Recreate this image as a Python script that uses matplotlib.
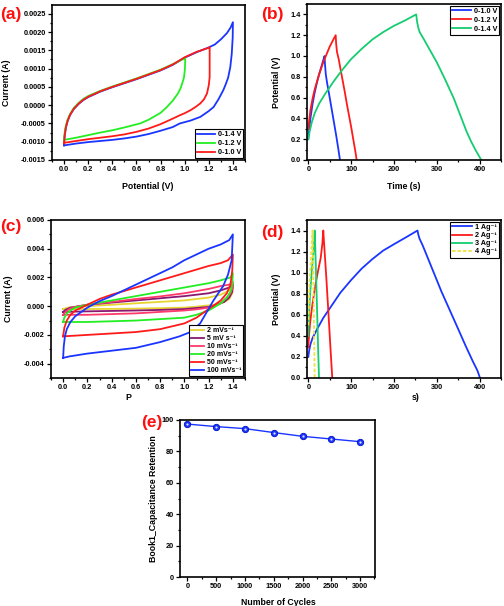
import matplotlib
matplotlib.use("Agg")
import matplotlib.pyplot as plt
from matplotlib.ticker import MultipleLocator, FormatStrFormatter

plt.rcParams['font.family'] = ['Liberation Sans', 'DejaVu Sans']
plt.rcParams['font.weight'] = 'bold'
plt.rcParams['axes.labelweight'] = 'bold'

# ---------------- data: (a) CV at different windows ----------------
a14_pot = [0, 0.005, 0.015, 0.03, 0.05, 0.08, 0.12, 0.16, 0.2, 0.3, 0.4, 0.5, 0.6, 0.7, 0.8, 0.9, 1.0, 1.1, 1.2, 1.25, 1.3, 1.35, 1.38, 1.4,
           1.398, 1.39, 1.378, 1.36, 1.34, 1.32, 1.28, 1.24, 1.2, 1.13, 1.05, 0.96, 0.9, 0.8, 0.7, 0.6, 0.5, 0.4, 0.3, 0.2, 0.1, 0.0]
a14_cur = [-0.00110, -0.00085, -0.00062, -0.00043, -0.00027, -0.00011, 0.00003, 0.00014, 0.00022, 0.00037, 0.00049, 0.00060, 0.00071, 0.00083, 0.00095, 0.00110, 0.00130, 0.00145, 0.00158, 0.00166, 0.00180, 0.00197, 0.00212, 0.00227,
           0.00185, 0.00140, 0.00104, 0.00075, 0.00057, 0.00041, 0.00016, -0.00005, -0.00016, -0.00032, -0.00042, -0.00050, -0.00060, -0.00070, -0.00079, -0.00086, -0.00091, -0.00095, -0.00098, -0.00101, -0.00105, -0.00110]

a12_pot = [0, 0.005, 0.015, 0.03, 0.05, 0.08, 0.12, 0.16, 0.2, 0.3, 0.4, 0.5, 0.6, 0.7, 0.8, 0.9, 1.0, 1.1, 1.2, 1.207,
           1.207, 1.2, 1.185, 1.16, 1.13, 1.09, 1.047, 1.0, 0.964, 0.9, 0.8, 0.7, 0.6, 0.5, 0.4, 0.3, 0.2, 0.1, 0.0]
a12_cur = [-0.00105, -0.00082, -0.00060, -0.00042, -0.00026, -0.00010, 0.00004, 0.00015, 0.00023, 0.00038, 0.00050, 0.00061, 0.00072, 0.00084, 0.00096, 0.00111, 0.00131, 0.00146, 0.00157, 0.00159,
           0.00077, 0.00055, 0.00032, 0.00016, 0.00005, -0.00005, -0.00014, -0.00022, -0.00027, -0.00037, -0.00052, -0.00064, -0.00073, -0.00080, -0.00085, -0.00089, -0.00093, -0.00098, -0.00103]

a10_pot = [0, 0.005, 0.015, 0.03, 0.05, 0.08, 0.12, 0.16, 0.2, 0.3, 0.4, 0.5, 0.6, 0.7, 0.8, 0.9, 1.0, 1.005,
           1.002, 0.995, 0.98, 0.964, 0.94, 0.9, 0.85, 0.8, 0.7, 0.63, 0.5, 0.41, 0.3, 0.2, 0.1, 0.0]
a10_cur = [-0.00095, -0.00075, -0.00056, -0.00039, -0.00024, -0.00008, 0.00006, 0.00017, 0.00025, 0.00039, 0.00051, 0.00062, 0.00073, 0.00085, 0.00097, 0.00112, 0.00128, 0.00130,
           0.00100, 0.00077, 0.00060, 0.00045, 0.00030, 0.00012, -0.00006, -0.00021, -0.00040, -0.00050, -0.00061, -0.00068, -0.00075, -0.00082, -0.00089, -0.00095]

# ---------------- data: (b) GCD at different windows ----------------
b10_t = [0, 2, 5, 10, 15, 20, 25, 30, 35, 38, 39, 41, 44, 50, 55, 60, 65, 70, 74]
b10_v = [0.20, 0.29, 0.40, 0.54, 0.65, 0.74, 0.82, 0.89, 0.96, 1.00, 0.92, 0.82, 0.74, 0.60, 0.48, 0.36, 0.24, 0.11, 0.0]
b12_t = [0, 2, 5, 10, 15, 20, 25, 30, 35, 40, 45, 50, 55, 60, 64, 65, 67, 71, 75, 80, 85, 90, 95, 100, 105, 110, 113]
b12_v = [0.30, 0.38, 0.48, 0.59, 0.68, 0.75, 0.82, 0.88, 0.94, 0.99, 1.04, 1.09, 1.13, 1.17, 1.20, 1.12, 1.04, 0.97, 0.88, 0.77, 0.66, 0.54, 0.43, 0.32, 0.20, 0.08, 0.0]
b14_t = [0, 3, 8, 15, 25, 40, 60, 80, 100, 125, 150, 175, 200, 225, 252,
         254, 257, 260, 270, 285, 300, 320, 340, 355, 370, 380, 390, 404]
b14_v = [0.20, 0.27, 0.36, 0.45, 0.54, 0.64, 0.76, 0.87, 0.97, 1.07, 1.16, 1.23, 1.29, 1.34, 1.40,
         1.33, 1.27, 1.23, 1.16, 1.05, 0.94, 0.77, 0.59, 0.43, 0.27, 0.18, 0.10, 0.0]

# ---------------- data: (c) CV at different scan rates ----------------
c2_pot = [0, 0.05, 0.2, 0.4, 0.6, 0.8, 1.0, 1.2, 1.3, 1.37, 1.4, 1.395, 1.37, 1.33, 1.25, 1.1, 1.0, 0.8, 0.6, 0.4, 0.2, 0.0]
c2_cur = [-0.0002, -0.00008, 0.0000, 0.0001, 0.0002, 0.0003, 0.0004, 0.0006, 0.0008, 0.0011, 0.0014, 0.0009, 0.0005, 0.0003, 0.0001, -0.00003, -0.0001, -0.00014, -0.00017, -0.00019, -0.0002, -0.0002]
c5_pot = [0, 0.02, 0.06, 0.2, 0.4, 0.6, 0.8, 1.0, 1.2, 1.3, 1.37, 1.4, 1.395, 1.37, 1.33, 1.25, 1.2, 1.0, 0.8, 0.6, 0.4, 0.2, 0.0]
c5_cur = [-0.0004, -0.00025, -0.0001, 0.0001, 0.00025, 0.0004, 0.00055, 0.0007, 0.0009, 0.0011, 0.0013, 0.0015, 0.0010, 0.0006, 0.0003, 0.00005, -0.00005, -0.0002, -0.00026, -0.0003, -0.00033, -0.00036, -0.0004]
c10_pot = [0, 0.02, 0.05, 0.1, 0.2, 0.4, 0.6, 0.8, 1.0, 1.2, 1.3, 1.37, 1.4, 1.395, 1.38, 1.35, 1.3, 1.2, 1.1, 1.0, 0.8, 0.6, 0.4, 0.2, 0.0]
c10_cur = [-0.0006, -0.0004, -0.0002, -0.00005, 0.0001, 0.0003, 0.0005, 0.00068, 0.0009, 0.0012, 0.0014, 0.0015, 0.0017, 0.0012, 0.0009, 0.0006, 0.0002, -0.0001, -0.00022, -0.0003, -0.0004, -0.0005, -0.00055, -0.0006, -0.0006]
c20_pot = [0, 0.01, 0.03, 0.06, 0.1, 0.2, 0.4, 0.6, 0.8, 1.0, 1.2, 1.3, 1.38, 1.4, 1.395, 1.38, 1.35, 1.3, 1.2, 1.1, 1.0, 0.8, 0.6, 0.4, 0.2, 0.0]
c20_cur = [-0.0011, -0.0008, -0.0005, -0.0003, -0.0001, 0.0001, 0.0004, 0.0007, 0.0010, 0.0013, 0.0016, 0.0018, 0.0020, 0.0023, 0.0015, 0.0010, 0.0006, 0.0002, -0.0003, -0.0006, -0.0008, -0.0009, -0.0010, -0.00105, -0.0011, -0.0011]
c50_pot = [0, 0.01, 0.03, 0.06, 0.1, 0.2, 0.3, 0.4, 0.6, 0.8, 1.0, 1.2, 1.3, 1.36, 1.4, 1.395, 1.38, 1.35, 1.3, 1.2, 1.1, 1.0, 0.8, 0.6, 0.4, 0.2, 0.0]
c50_cur = [-0.0021, -0.0015, -0.0010, -0.0006, -0.0003, 0.0001, 0.0005, 0.0008, 0.0013, 0.0018, 0.0023, 0.0028, 0.0030, 0.0032, 0.0036, 0.0025, 0.0015, 0.0009, 0.0004, -0.0002, -0.0008, -0.0012, -0.0016, -0.0018, -0.0019, -0.0020, -0.0021]
c100_pot = [0, 0.005, 0.015, 0.03, 0.06, 0.1, 0.15, 0.2, 0.3, 0.4, 0.5, 0.6, 0.7, 0.8, 0.9, 1.0, 1.1, 1.2, 1.3, 1.37, 1.4,
            1.39, 1.36, 1.32, 1.24, 1.13, 1.05, 0.96, 0.8, 0.6, 0.4, 0.2, 0.05, 0.0]
c100_cur = [-0.0036, -0.0028, -0.0021, -0.0016, -0.0011, -0.0007, -0.0004, -0.0001, 0.00035, 0.0007, 0.0011, 0.0015, 0.0019, 0.0023, 0.0027, 0.0032, 0.0036, 0.0040, 0.0043, 0.0046, 0.0050,
            0.0032, 0.0022, 0.0014, 0.0004, -0.0012, -0.0018, -0.0021, -0.0025, -0.0029, -0.0031, -0.0033, -0.0035, -0.0036]

# ---------------- data: (d) GCD at different current densities ----------------
d1_t = [0, 2, 5, 10, 20, 35, 50, 75, 100, 125, 150, 175, 200, 230, 255,
        257, 260, 267, 287, 311, 344, 368, 384, 395, 401]
d1_v = [0.20, 0.26, 0.32, 0.38, 0.46, 0.57, 0.66, 0.81, 0.93, 1.04, 1.13, 1.21, 1.27, 1.34, 1.40,
        1.36, 1.32, 1.26, 1.06, 0.82, 0.52, 0.30, 0.16, 0.07, 0.0]
d2_t = [0, 2, 5, 9, 13, 17, 21, 25, 29, 33, 35, 37, 42, 47, 52, 56]
d2_v = [0.29, 0.42, 0.55, 0.68, 0.79, 0.89, 0.98, 1.06, 1.14, 1.28, 1.40, 1.27, 0.96, 0.62, 0.27, 0.0]
d3_t = [0, 2, 4, 7, 10, 13, 15, 17, 20, 23, 25]
d3_v = [0.40, 0.62, 0.78, 0.96, 1.10, 1.24, 1.40, 1.15, 0.72, 0.28, 0.0]
d4_t = [0, 1.5, 3, 5, 7, 9, 10, 11, 12.5, 14, 15]
d4_v = [0.50, 0.72, 0.88, 1.05, 1.19, 1.32, 1.40, 1.15, 0.72, 0.28, 0.0]

# ---------------- data: (e) cycling stability ----------------
cycles = [0, 500, 1000, 1500, 2000, 2500, 3000]
retention = [97.4, 95.8, 94.5, 92.0, 89.6, 87.9, 86.2]

# ---------------- figure ----------------
W, H = 504, 606
fig = plt.figure(figsize=(W / 100, H / 100), dpi=100)


def add_ax(l, t, r, b):
    return fig.add_axes([l / W, 1 - b / H, (r - l) / W, (b - t) / H])


TICK = 5.3
LAB = 6.3


def style(ax):
    for s in ax.spines.values():
        s.set_linewidth(1.2)
    ax.tick_params(which='both', direction='out', top=False, right=False,
                   labelsize=TICK, width=0.9, pad=1.5)
    ax.tick_params(which='major', length=3)
    ax.tick_params(which='minor', length=1.6)
    for lab in ax.get_xticklabels() + ax.get_yticklabels():
        lab.set_fontweight('bold')


def panel_label(x, y, s):
    fig.text(x / W, 1 - y / H, s, color='#ff1010', fontsize=12.5,
             fontweight='bold', ha='left', va='center')


def leg(ax, **kw):
    opts = dict(fontsize=5.2, frameon=True, fancybox=False, edgecolor='black',
                framealpha=1, handlelength=2.6, handletextpad=0.4,
                borderpad=0.3, labelspacing=0.25, borderaxespad=0.25)
    opts.update(kw)
    lg = ax.legend(**opts)
    lg.get_frame().set_linewidth(0.8)
    for t in lg.get_texts():
        t.set_fontweight('bold')
    return lg


BLUE = '#1a35ff'
RED = '#ff1a1a'
GREEN = '#22ee22'
TEAL = '#15cc70'
LW = 1.3

# (a)
ax = add_ax(52, 5, 245, 160)
ax.plot(a14_pot, a14_cur, color=BLUE, lw=LW, label='0-1.4 V')
ax.plot(a10_pot, a10_cur, color=GREEN, lw=LW, label='0-1.2 V')
ax.plot(a12_pot, a12_cur, color=RED, lw=LW, label='0-1.0 V')
ax.set_xlim(-0.1, 1.5)
ax.set_ylim(-0.0015, 0.00274)
ax.xaxis.set_major_locator(MultipleLocator(0.2))
ax.xaxis.set_minor_locator(MultipleLocator(0.1))
ax.yaxis.set_major_locator(MultipleLocator(0.0005))
ax.yaxis.set_minor_locator(MultipleLocator(0.00025))
ax.xaxis.set_major_formatter(FormatStrFormatter('%.1f'))
ax.yaxis.set_major_formatter(FormatStrFormatter('%.4f'))
style(ax)
ax.set_xlabel('Potential (V)', fontsize=LAB, fontweight='bold')
ax.set_ylabel('Current (A)', fontsize=LAB, fontweight='bold')
ax.xaxis.set_label_coords((148 - 52) / 193, -(182 - 160) / 155)
ax.yaxis.set_label_coords(-(52 - 11) / 193, 0.5)
leg(ax, loc='lower right', handlelength=2.4)
panel_label(0, 15, '(a)')

# (b)
ax = add_ax(307, 4, 501, 160)
ax.plot(b10_t, b10_v, color=BLUE, lw=LW, label='0-1.0 V')
ax.plot(b12_t, b12_v, color=RED, lw=LW, label='0-1.2 V')
ax.plot(b14_t, b14_v, color=TEAL, lw=LW, label='0-1.4 V')
ax.set_xlim(-3, 450)
ax.set_ylim(0, 1.5)
ax.xaxis.set_major_locator(MultipleLocator(100))
ax.xaxis.set_minor_locator(MultipleLocator(50))
ax.yaxis.set_major_locator(MultipleLocator(0.2))
ax.yaxis.set_minor_locator(MultipleLocator(0.1))
ax.yaxis.set_major_formatter(FormatStrFormatter('%.1f'))
style(ax)
ax.set_xlabel('Time (s)', fontsize=LAB, fontweight='bold')
ax.set_ylabel('Potential (V)', fontsize=LAB, fontweight='bold')
ax.xaxis.set_label_coords(0.5, -(182 - 160) / 156)
ax.yaxis.set_label_coords(-(307 - 281) / 194, 0.5)
leg(ax, loc='upper right')
panel_label(261, 15, '(b)')

# (c)
ax = add_ax(51, 220, 245, 378)
ax.plot(c2_pot, c2_cur, color='#e8d430', lw=LW, label='2 mVs⁻¹')
ax.plot(c5_pot, c5_cur, color='#8a1870', lw=LW, label='5 mV s⁻¹')
ax.plot(c10_pot, c10_cur, color='#ff3a6a', lw=LW, label='10 mVs⁻¹')
ax.plot(c20_pot, c20_cur, color=GREEN, lw=LW, label='20 mVs⁻¹')
ax.plot(c50_pot, c50_cur, color=RED, lw=LW, label='50 mVs⁻¹')
ax.plot(c100_pot, c100_cur, color=BLUE, lw=LW, label='100 mVs⁻¹')
ax.set_xlim(-0.1, 1.5)
ax.set_ylim(-0.005, 0.006)
ax.xaxis.set_major_locator(MultipleLocator(0.2))
ax.xaxis.set_minor_locator(MultipleLocator(0.1))
ax.yaxis.set_major_locator(MultipleLocator(0.002))
ax.yaxis.set_minor_locator(MultipleLocator(0.001))
ax.xaxis.set_major_formatter(FormatStrFormatter('%.1f'))
ax.yaxis.set_major_formatter(FormatStrFormatter('%.3f'))
style(ax)
ax.set_ylabel('Current (A)', fontsize=LAB, fontweight='bold')
ax.yaxis.set_label_coords(-(51 - 13) / 194, 0.5)
fig.text(128 / W, 1 - 397 / H, 'P', fontsize=LAB, fontweight='bold', ha='center', va='center')
leg(ax, loc='lower right', handlelength=1.9, labelspacing=0.15, fontsize=5.0)
panel_label(0, 227, '(c)')

# (d)
ax = add_ax(307, 220, 501, 378)
ax.plot(d1_t, d1_v, color=BLUE, lw=LW, label='1 Ag⁻¹')
ax.plot(d2_t, d2_v, color=RED, lw=LW, label='2 Ag⁻¹')
ax.plot(d3_t, d3_v, color=TEAL, lw=LW, label='3 Ag⁻¹')
ax.plot(d4_t, d4_v, color='#f0e040', lw=LW, ls=(0, (2, 1)), label='4 Ag⁻¹')
ax.set_xlim(-3, 450)
ax.set_ylim(0, 1.5)
ax.xaxis.set_major_locator(MultipleLocator(100))
ax.xaxis.set_minor_locator(MultipleLocator(50))
ax.yaxis.set_major_locator(MultipleLocator(0.2))
ax.yaxis.set_minor_locator(MultipleLocator(0.1))
ax.yaxis.set_major_formatter(FormatStrFormatter('%.1f'))
style(ax)
ax.set_ylabel('Potential (V)', fontsize=LAB, fontweight='bold')
ax.yaxis.set_label_coords(-(307 - 281) / 194, 0.5)
fig.text(416 / W, 1 - 398 / H, 's)', fontsize=LAB, fontweight='bold', ha='center', va='center')
leg(ax, loc='upper right', handlelength=2.8, labelspacing=0.15)
panel_label(261, 232, '(d)')

# (e)
ax = add_ax(180, 420, 375, 577)
ax.plot(cycles, retention, color=BLUE, lw=1.0, marker='o', ms=4.6,
        mfc='#1a35ff', mec='#0010c0', mew=0.6)
ax.plot(cycles, retention, ls='none', marker='o', ms=1.6, mfc='#dde4ff', mec='none')
ax.set_xlim(-130, 3260)
ax.set_ylim(0, 100)
ax.xaxis.set_major_locator(MultipleLocator(500))
ax.xaxis.set_minor_locator(MultipleLocator(250))
ax.yaxis.set_major_locator(MultipleLocator(20))
ax.yaxis.set_minor_locator(MultipleLocator(10))
style(ax)
ax.set_xlabel('Number of Cycles', fontsize=LAB, fontweight='bold')
ax.set_ylabel('Book1_Capacitance Retention', fontsize=LAB, fontweight='bold')
ax.xaxis.set_label_coords((278 - 180) / 195, -(598 - 577) / 157)
ax.yaxis.set_label_coords(-(180 - 158) / 195, 0.5)
panel_label(141, 423, '(e)')

fig.savefig('out.png', dpi=100, facecolor='white')
